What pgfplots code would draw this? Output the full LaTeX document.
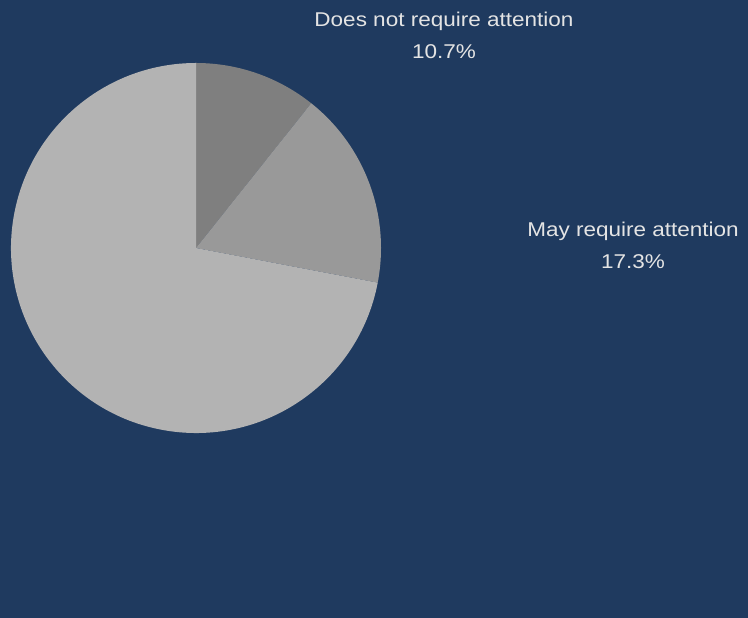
\documentclass[border=0pt]{standalone}
\usepackage{pgfplots}
\pgfplotsset{compat=1.18}
\usepackage{pgfplotstable}
\usepackage{fontspec}
\setmainfont{Liberation Sans}
\newfontfamily\lblfont[FakeStretch=1.13]{Liberation Sans}
\definecolor{bg}{HTML}{1F3A5F}
\definecolor{sA}{HTML}{7F7F7F}
\definecolor{sB}{HTML}{999999}
\definecolor{sC}{HTML}{B3B3B3}
\definecolor{txt}{HTML}{E4E4E4}
\pgfplotstableread[col sep=comma]{
label,value
Does not require attention,10.7
May require attention,17.3
Other,72.0
}\piedata
\pgfplotstablegetelem{0}{value}\of\piedata \let\vA\pgfplotsretval
\pgfplotstablegetelem{1}{value}\of\piedata \let\vB\pgfplotsretval
\pgfplotstablegetelem{2}{value}\of\piedata \let\vC\pgfplotsretval
\pgfmathsetmacro{\aA}{90}
\pgfmathsetmacro{\aB}{90-\vA*3.6}
\pgfmathsetmacro{\aC}{\aB-\vB*3.6}
\pgfmathsetmacro{\aD}{\aC-\vC*3.6}
\begin{document}
\begin{tikzpicture}
\begin{axis}[
  x=1bp, y=1bp, scale only axis,
  xmin=0, xmax=748, ymin=0, ymax=618,
  hide axis, clip=false,
]
\fill[bg] (axis cs:0,0) rectangle (axis cs:748,618);
\coordinate (ll) at (axis cs:0,0);
\coordinate (ur) at (axis cs:748,618);
\def\cx{196}\def\cy{370}\def\R{185bp}
\fill[sA] (axis cs:\cx,\cy) -- ++(\aA:\R) arc[start angle=\aA, end angle=\aB, radius=\R] -- cycle;
\fill[sB] (axis cs:\cx,\cy) -- ++(\aB:\R) arc[start angle=\aB, end angle=\aC, radius=\R] -- cycle;
\fill[sC] (axis cs:\cx,\cy) -- ++(\aC:\R) arc[start angle=\aC, end angle=\aD, radius=\R] -- cycle;
\node[txt, align=center, font=\lblfont\fontsize{20}{32}\selectfont, anchor=center] at (axis cs:444,583) {Does not require attention\\\vA\%};
\node[txt, align=center, font=\lblfont\fontsize{20}{32}\selectfont, anchor=center] at (axis cs:633,373) {May require attention\\\vB\%};
\end{axis}
\pgfresetboundingbox
\useasboundingbox (ll) rectangle (ur);
\end{tikzpicture}
\end{document}
